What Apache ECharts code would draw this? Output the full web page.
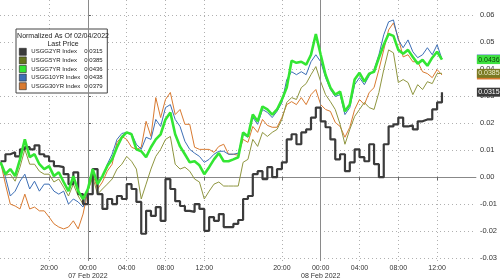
<!DOCTYPE html>
<html><head><meta charset="utf-8">
<script src="https://cdn.jsdelivr.net/npm/echarts@6/dist/echarts.min.js"></script>
<style>html,body{margin:0;padding:0;background:#fff}#c{width:500px;height:280px}</style>
</head><body><div id="c"></div>
<script>
// hours relative to 00:00 07 Feb 2022
const times = [-9,-8.5,-8,-7.5,-7,-6.5,-6,-5.5,-5,-4.5,-4,-3.5,-3,-2.5,-2,-1.5,-1,-0.5,0,0.5,1,1.5,2,2.5,3,3.5,4,4.5,5,5.5,6,6.5,7,7.5,8,8.5,9,9.5,10,10.5,11,11.5,12,12.5,13,13.5,14,14.5,15,15.5,16,16.5,17,17.5,18,18.5,19,19.5,20,20.5,21,21.5,22,22.5,23,23.5,24,24.5,25,25.5,26,26.5,27,27.5,28,28.5,29,29.5,30,30.5,31,31.5,32,32.5,33,33.5,34,34.5,35,35.5,36,36.5];

const usgg2 = [0.0059,0.0085,0.0092,0.0077,0.0103,0.0111,0.0103,0.0118,0.0085,0.0077,0.0059,0.0041,0.0037,0.0011,-0.0026,0.0018,-0.0063,-0.0100,-0.0063,0.0030,-0.0063,-0.0118,-0.0081,-0.0100,-0.0070,-0.0081,-0.0026,-0.0044,-0.0092,-0.0210,-0.0125,-0.0144,-0.0111,-0.0162,-0.0007,-0.0044,-0.0089,-0.0107,-0.0125,-0.0129,-0.0100,-0.0118,-0.0199,-0.0148,-0.0162,-0.0137,-0.0185,-0.0185,-0.0173,-0.0159,-0.0081,-0.0070,0.0011,0.0022,-0.0007,0.0037,0.0000,0.0030,0.0055,0.0140,0.0159,0.0122,0.0166,0.0177,0.0221,0.0258,0.0207,0.0185,0.0140,0.0066,0.0085,0.0022,0.0055,0.0103,0.0074,0.0059,0.0122,0.0048,0.0000,0.0122,0.0188,0.0196,0.0221,0.0188,0.0192,0.0177,0.0207,0.0214,0.0214,0.0251,0.0277,0.0315];

const usgg5 = [0.0055,0.0007,0.0011,-0.0015,0.0037,0.0103,0.0048,0.0048,0.0022,0.0011,0.0011,-0.0018,-0.0007,-0.0037,-0.0070,-0.0026,-0.0070,-0.0100,-0.0052,0.0000,-0.0063,-0.0044,-0.0026,-0.0007,0.0030,0.0048,0.0077,0.0059,0.0030,-0.0081,-0.0026,0.0030,0.0077,0.0103,0.0140,0.0151,0.0048,0.0030,0.0037,0.0022,-0.0007,-0.0018,-0.0081,-0.0052,-0.0026,-0.0018,-0.0033,-0.0033,-0.0033,-0.0033,0.0055,0.0066,0.0140,0.0114,0.0166,0.0151,0.0166,0.0177,0.0214,0.0277,0.0295,0.0288,0.0332,0.0347,0.0380,0.0410,0.0354,0.0306,0.0280,0.0251,0.0196,0.0122,0.0177,0.0225,0.0251,0.0277,0.0258,0.0251,0.0314,0.0399,0.0472,0.0461,0.0351,0.0362,0.0351,0.0306,0.0343,0.0325,0.0354,0.0347,0.0384,0.0385];

const usgg7 = [0.0055,0.0011,0.0030,0.0004,0.0066,0.0140,0.0074,0.0085,0.0048,0.0030,0.0041,0.0004,0.0018,-0.0018,-0.0052,0.0004,-0.0052,-0.0081,-0.0044,0.0030,-0.0026,0.0004,0.0041,0.0066,0.0111,0.0148,0.0166,0.0159,0.0103,0.0096,0.0074,0.0111,0.0140,0.0159,0.0214,0.0240,0.0159,0.0114,0.0085,0.0055,0.0059,0.0044,0.0011,0.0037,0.0066,0.0089,0.0059,0.0059,0.0066,0.0074,0.0166,0.0151,0.0232,0.0207,0.0262,0.0251,0.0232,0.0251,0.0288,0.0332,0.0432,0.0424,0.0428,0.0417,0.0454,0.0531,0.0454,0.0380,0.0332,0.0306,0.0317,0.0244,0.0269,0.0362,0.0387,0.0354,0.0384,0.0391,0.0443,0.0491,0.0531,0.0524,0.0472,0.0458,0.0472,0.0446,0.0421,0.0435,0.0413,0.0443,0.0465,0.0436];

const usgg10 = [0.0055,0.0000,-0.0070,-0.0052,-0.0015,0.0011,-0.0044,-0.0015,-0.0052,-0.0026,-0.0026,-0.0052,-0.0063,-0.0052,-0.0100,-0.0081,-0.0092,-0.0111,-0.0052,0.0022,-0.0026,0.0000,0.0048,0.0085,0.0140,0.0162,0.0166,0.0162,0.0122,0.0103,0.0148,0.0140,0.0214,0.0188,0.0258,0.0269,0.0214,0.0188,0.0133,0.0103,0.0089,0.0077,0.0055,0.0066,0.0085,0.0096,0.0096,0.0085,0.0085,0.0089,0.0159,0.0148,0.0221,0.0196,0.0251,0.0240,0.0221,0.0244,0.0277,0.0362,0.0391,0.0380,0.0391,0.0380,0.0428,0.0454,0.0428,0.0369,0.0325,0.0299,0.0306,0.0232,0.0258,0.0343,0.0369,0.0343,0.0376,0.0399,0.0454,0.0528,0.0576,0.0583,0.0509,0.0480,0.0509,0.0465,0.0443,0.0454,0.0480,0.0454,0.0491,0.0438];

const usgg30 = [0.0055,-0.0026,-0.0100,-0.0107,-0.0118,-0.0063,-0.0118,-0.0111,-0.0125,-0.0125,-0.0148,-0.0173,-0.0185,-0.0192,-0.0185,-0.0162,-0.0192,-0.0137,-0.0052,0.0011,-0.0044,-0.0018,0.0022,0.0048,0.0129,0.0151,0.0140,0.0111,0.0103,0.0111,0.0207,0.0151,0.0295,0.0221,0.0288,0.0314,0.0232,0.0251,0.0196,0.0196,0.0111,0.0103,0.0103,0.0103,0.0092,0.0114,0.0122,0.0085,0.0085,0.0081,0.0140,0.0129,0.0188,0.0166,0.0214,0.0192,0.0185,0.0185,0.0221,0.0269,0.0280,0.0269,0.0295,0.0269,0.0306,0.0325,0.0269,0.0251,0.0244,0.0203,0.0188,0.0148,0.0185,0.0251,0.0288,0.0269,0.0314,0.0332,0.0399,0.0472,0.0546,0.0572,0.0517,0.0446,0.0454,0.0428,0.0428,0.0391,0.0384,0.0369,0.0399,0.0379];

const yTicks = [-0.03,-0.02,-0.01,0,0.01,0.02,0.03,0.04,0.05,0.06];
const xTicks = [-4,0,4,8,12,20,24,28,32,36];
const dayLines = [0,24];
const dayNames = {0:'07 Feb 2022',24:'08 Feb 2022'};
const X_MIN = -9.06, X_MAX = 40;

const FONT = '"Liberation Sans",Arial,sans-serif';
const defs = [
  {name:'USGG30YR Index', data:usgg30, color:'#d97a30', width:1, z:2, lbBg:'#d97a30', lbFg:'#fff', lbShow:false},
  {name:'USGG10YR Index', data:usgg10, color:'#3d6fb6', width:1, z:3, lbBg:'#3d6fb6', lbFg:'#fff', lbShow:false},
  {name:'USGG5YR Index', data:usgg5, color:'#8f9640', width:1, z:4, lbBg:'#7a7a22', lbFg:'#f0f0d0', sw:'#66761e', lbShow:true},
  {name:'USGG2YR Index', data:usgg2, color:'#3b3b3b', width:2.2, z:5, step:'end', lbBg:'#3a3a3a', lbFg:'#fff', lbShow:true},
  {name:'USGG7YR Index', data:usgg7, color:'#33e633', width:2.6, z:6, lbBg:'#3fe23f', lbFg:'#0a3a0a', lbShow:true}
];
const lastOf = {};
defs.forEach(d => lastOf[d.name] = d.data[d.data.length-1]);

const series = defs.map((d, idx) => {
  const s = {
    name: d.name, type:'line', z:d.z, step:d.step || false, clip:false,
    data: times.map((t,i) => [t, d.data[i]]),
    showSymbol:false, symbol:'none', animation:false,
    lineStyle:{color:d.color, width:d.width},
    itemStyle:{color: d.sw || d.color},
    markPoint:{silent:true, animation:false,
      data:[{coord:[X_MAX, lastOf[d.name]], symbol:'rect', symbolSize:[24,9], symbolOffset:[13,0],
        itemStyle:{color:d.lbBg, borderWidth:0},
        label:{show:d.lbShow, position:'inside', formatter:lastOf[d.name].toFixed(4), color:d.lbFg, fontSize:7, fontFamily:FONT}}]}
  };
  if (idx === 0) {
    s.markLine = {silent:true, symbol:'none', animation:false,
      lineStyle:{color:'#8a8a8a', width:1, type:'solid'}, label:{show:false},
      data: dayLines.map(v => ({xAxis:v}))};
  }
  return s;
});

const chart = echarts.init(document.getElementById('c'), null, {renderer:'canvas'});
chart.setOption({
  animation:false,
  backgroundColor:'#fff',
  grid:{left:0, right:24, top:0, bottom:18},
  xAxis:{type:'value', min:X_MIN, max:X_MAX,
    axisLine:{show:true, lineStyle:{color:'#888'}},
    axisTick:{show:true, length:3, lineStyle:{color:'#666'}, customValues:xTicks},
    axisLabel:{customValues:xTicks, margin:3, fontSize:7, lineHeight:8, color:'#333', fontFamily:FONT,
      formatter: v => { const h = ((v % 24) + 24) % 24; const s = (h<10?'0':'') + h + ':00'; return dayNames[v] ? s + '\n' + dayNames[v] : s; }},
    splitLine:{show:true, lineStyle:{color:'#b0b0b0', type:[1,3], width:1}}
  },
  yAxis:{type:'value', position:'right', min:-0.0311, max:0.0657,
    axisLine:{show:false},
    axisTick:{show:true, length:3, lineStyle:{color:'#555'}, customValues:yTicks},
    axisLabel:{customValues:yTicks, margin:4, fontSize:7.5, color:'#333', fontFamily:FONT, formatter: v => v.toFixed(2)},
    splitLine:{show:true, lineStyle:{color:'#b0b0b0', type:[1,3], width:1}}
  },
  legend:{
    data:['USGG2YR Index','USGG5YR Index','USGG7YR Index','USGG10YR Index','USGG30YR Index'],
    orient:'vertical', left:16, top:29, padding:[19,3,3,3],
    backgroundColor:'#fff', borderColor:'#444', borderWidth:1,
    itemWidth:7, itemHeight:7, itemGap:1, icon:'rect',
    itemStyle:{borderColor:'#222', borderWidth:0.6},
    selectedMode:false,
    textStyle:{fontSize:6, color:'#222', fontFamily:FONT, lineHeight:7,
      rich:{n:{width:53, fontSize:6, fontFamily:FONT, color:'#222'}, v:{width:20, fontSize:6, fontFamily:FONT, color:'#222'}}},
    formatter: name => '{n|' + name + '}{v|' + lastOf[name].toFixed(4) + '}'
  },
  graphic:[{type:'text', z:100, x:63, y:32,
    style:{text:'Normalized As Of 02/04/2022\nLast Price', align:'center', fontSize:7, lineHeight:8, fill:'#222', fontFamily:FONT}}],
  series: series
});
</script></body></html>
